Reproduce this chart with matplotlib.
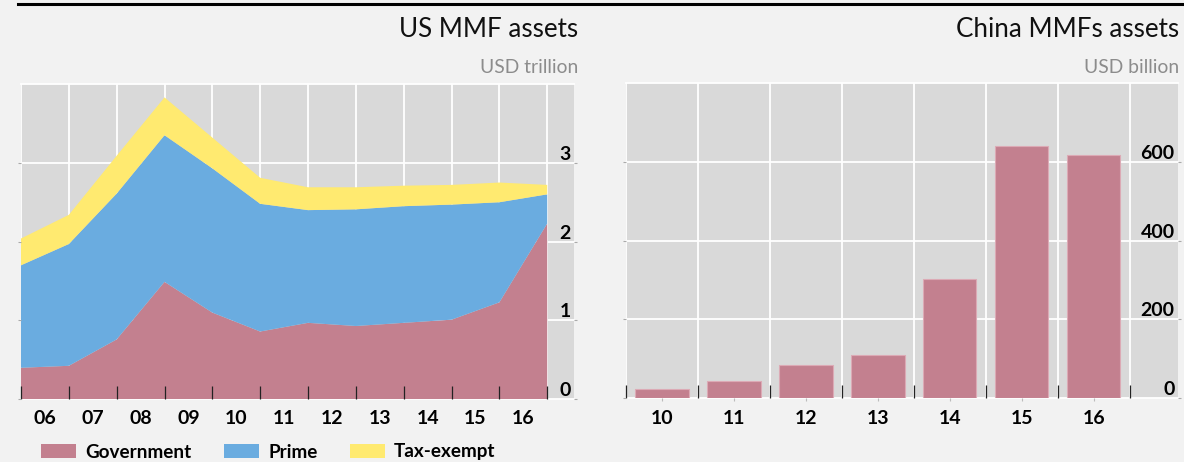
import matplotlib
matplotlib.use("Agg")
import matplotlib.pyplot as plt
from matplotlib.patches import Patch
import numpy as np

plt.rcParams['font.family'] = ['Lato', 'DejaVu Sans']

# ---------------- data ----------------
us_year_labels = ['06', '07', '08', '09', '10', '11', '12', '13', '14', '15', '16']
government = [0.40, 0.425, 0.76, 1.49, 1.10, 0.86, 0.97, 0.93, 0.97, 1.01, 1.23, 2.23]
prime = [1.30, 1.545, 1.85, 1.86, 1.83, 1.62, 1.43, 1.48, 1.48, 1.46, 1.27, 0.37]
tax_exempt = [0.34, 0.37, 0.48, 0.48, 0.39, 0.33, 0.29, 0.28, 0.26, 0.25, 0.25, 0.12]
us_yticks = [0, 1, 2, 3]

cn_years = ['10', '11', '12', '13', '14', '15', '16']
cn_assets = [23, 43, 83, 108, 302, 641, 618]
cn_yticks = [0, 200, 400, 600]

# ---------------- style ----------------
FIG_BG = '#f2f2f2'
AX_BG = '#d9d9d9'
C_GOV = '#c3808f'
C_PRIME = '#6aace0'
C_TAX = '#ffea70'
FS = 14
FW = 'bold'

fig = plt.figure(figsize=(11.84, 4.62), dpi=100, facecolor=FIG_BG)
W, H = 1184, 462

def ax_rect(x0, x1, ytop, ybot):
    return [x0 / W, 1 - ybot / H, (x1 - x0) / W, (ybot - ytop) / H]

ax1 = fig.add_axes(ax_rect(21, 574, 84, 399.3))
ax2 = fig.add_axes(ax_rect(626, 1178, 83, 398))

def style_axes(ax, yticks, ylim):
    ax.set_facecolor(AX_BG)
    for s in ax.spines.values():
        s.set_visible(False)
    ax.set_ylim(*ylim)
    full = list(yticks) + [ylim[1]]
    for yv in full:
        ax.axhline(yv, color='white', lw=1.3, zorder=0.5, clip_on=False)
    ax.set_yticks(yticks)
    ax.set_yticklabels([str(v) for v in yticks])
    ax.tick_params(axis='y', which='major', right=True, left=True,
                   direction='out', length=2.5, width=0.8, color='#aaaaaa',
                   labelright=True, labelleft=False, pad=-5, labelsize=FS)
    for t in ax.yaxis.get_major_ticks():
        t.label2.set_ha('right')
        t.label2.set_va('bottom')
        t.label2.set_fontweight(FW)

# ---------------- US MMF (stacked area) ----------------
x = np.arange(len(government))
ax1.stackplot(x, government, prime, tax_exempt,
              colors=[C_GOV, C_PRIME, C_TAX], lw=0, zorder=2)
ax1.set_xlim(0, 11.56)
style_axes(ax1, us_yticks, (0, 4))
for xv in x:
    ax1.axvline(xv, color='white', lw=1.3, zorder=0.5)
ax1.set_xticks(np.arange(len(us_year_labels)) + 0.5)
ax1.set_xticklabels(us_year_labels, fontweight=FW)
ax1.set_xticks(x, minor=True)
ax1.tick_params(axis='x', which='major', length=0, labelsize=FS, pad=8)
ax1.tick_params(axis='x', which='minor', direction='in', length=9.5,
                width=0.9, color='#222222')
ax1.set_axisbelow(False)

# ---------------- China MMFs (bars) ----------------
xc = np.arange(len(cn_years))
ax2.bar(xc, cn_assets, width=0.74, color=C_GOV, edgecolor='#dcaab5',
        lw=0.8, zorder=2)
ax2.set_xlim(-0.5, 7.17)
style_axes(ax2, cn_yticks, (0, 800))
for xv in np.arange(-0.5, 7, 1):
    ax2.axvline(xv, color='white', lw=1.3, zorder=0.5)
ax2.set_xticks(xc)
ax2.set_xticklabels(cn_years, fontweight=FW)
ax2.set_xticks(np.arange(-0.5, 7, 1), minor=True)
ax2.tick_params(axis='x', which='major', length=2, color='#bbbbbb',
                labelsize=FS, pad=6.5)
ax2.tick_params(axis='x', which='minor', direction='in', length=9.5,
                width=0.9, color='#222222')
ax2.set_axisbelow(False)

# ---------------- titles ----------------
fig.text(578 / W, 1 - 37 / H, 'US MMF assets', ha='right', va='baseline',
         fontsize=18.7, color='#111111')
fig.text(578 / W, 1 - 72.7 / H, 'USD trillion', ha='right', va='baseline',
         fontsize=13.9, color='#8c8c8c')
fig.text(1179 / W, 1 - 37 / H, 'China MMFs assets', ha='right', va='baseline',
         fontsize=18.7, color='#111111')
fig.text(1179 / W, 1 - 72.7 / H, 'USD billion', ha='right', va='baseline',
         fontsize=13.9, color='#8c8c8c')

# top rule
fig.add_artist(plt.Line2D([18 / W, 1.0], [1 - 3.7 / H, 1 - 3.7 / H],
                          color='black', lw=2.2, transform=fig.transFigure))

# ---------------- legend ----------------
handles = [Patch(facecolor=C_GOV, label='Government'),
           Patch(facecolor=C_PRIME, label='Prime'),
           Patch(facecolor=C_TAX, label='Tax-exempt')]
fig.legend(handles=handles, loc='center left', ncol=3, frameon=False,
           bbox_to_anchor=(41 / W, 1 - 452 / H),
           prop={'size': 13.6, 'weight': FW},
           handlelength=1.85, handleheight=0.7, handletextpad=0.5,
           columnspacing=1.7, borderpad=0, borderaxespad=0)

fig.savefig('out.png', dpi=100, facecolor=FIG_BG)
